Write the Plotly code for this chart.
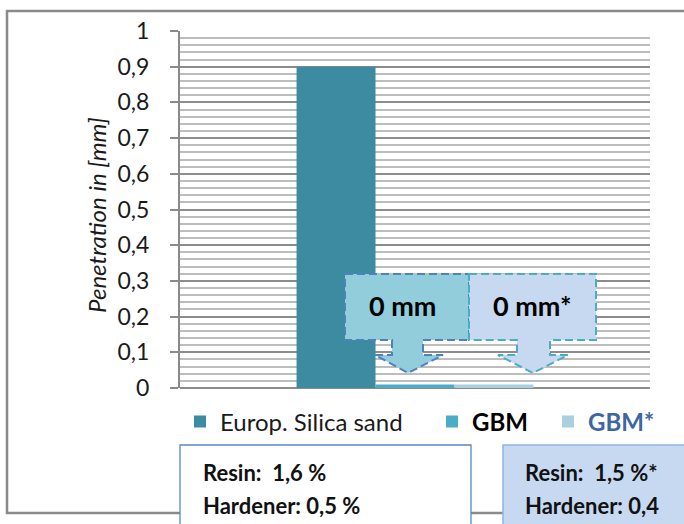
import plotly.graph_objects as go

# Penetration depth per binder system
materials = ["Europ. Silica sand", "GBM", "GBM*"]
penetration_mm = [0.9, 0.01, 0.01]
bar_colors = ["#3d8ba1", "#4bacc6", "#a9d0de"]

y_ticks = [0, 0.1, 0.2, 0.3, 0.4, 0.5, 0.6, 0.7, 0.8, 0.9, 1.0]
y_title = "Penetration in [mm]"

recipe_left = ["Resin:\u00a0 1,6 %", "Hardener: 0,5 %"]
recipe_right = ["Resin:\u00a0 1,5 %*", "Hardener: 0,4"]

W, H = 684, 524
L, R, T, B = 180, 34, 31, 136
PW, PH = W - L - R, H - T - B


def fx(px):
    return (px - L) / PW


def fy(py):
    return (H - B - py) / PH


fig = go.Figure()
legend_ids = ["legend", "legend2", "legend3"]
legend_names = ["Europ. Silica sand", "<b>GBM</b>", "<b>GBM*</b>"]
for name, val, col, lg, lname in zip(materials, penetration_mm, bar_colors,
                                     legend_ids, legend_names):
    fig.add_trace(go.Bar(x=[0], y=[val], name=lname, marker_color=col,
                         marker_line_width=0, legend=lg))

# Callout boxes with down-pointing arrows
def callout(box, shaft, head, tip_x, fill, line_col):
    x0, y0, x1, y1 = box
    s0, s1 = shaft
    h0, h1 = head
    pts = [(x0, y0), (x1, y0), (x1, y1), (s1, y1), (s1, 355), (h1, 355),
           (tip_x, 373), (h0, 355), (s0, 355), (s0, y1), (x0, y1)]
    path = "M " + " L ".join(f"{fx(a):.5f},{fy(b):.5f}" for a, b in pts) + " Z"
    fig.add_shape(type="path", path=path, xref="paper", yref="paper",
                  fillcolor=fill, line=dict(color=line_col, width=2, dash="8px,4px"),
                  layer="above")


callout((345, 274, 469, 340), (392, 423), (375, 443), 408, "#92cddc", "#4f81bd")
callout((469, 274, 596, 340), (517, 550), (498, 568), 533, "#c6d9f1", "#4bacc6")

label_font = dict(family="Lato", size=27, color="#000000")
fig.add_annotation(x=fx(402), y=fy(305), xref="paper", yref="paper",
                   text=f"<b>{round(penetration_mm[1])} mm</b>", showarrow=False,
                   font=label_font, xanchor="center", yanchor="middle")
fig.add_annotation(x=fx(532), y=fy(305), xref="paper", yref="paper",
                   text=f"<b>{round(penetration_mm[2])} mm*</b>", showarrow=False,
                   font=label_font, xanchor="center", yanchor="middle")

# Outer frame
fig.add_shape(type="rect", xref="paper", yref="paper",
              x0=fx(7), x1=fx(720), y0=fy(513), y1=fy(11),
              line=dict(color="#8a8a8a", width=2.5), fillcolor="rgba(0,0,0,0)",
              layer="below")

# Recipe boxes
fig.add_shape(type="rect", xref="paper", yref="paper",
              x0=fx(180), x1=fx(471), y0=fy(560), y1=fy(445),
              line=dict(color="#5b87c5", width=1.3), fillcolor="#ffffff", layer="above")
fig.add_shape(type="rect", xref="paper", yref="paper",
              x0=fx(503), x1=fx(720), y0=fy(560), y1=fy(445),
              line=dict(color="#8eb4e3", width=1.5), fillcolor="#c6d9f1", layer="above")

box_font = dict(family="Lato", size=22, color="#111111")
for lines, x in ((recipe_left, 201), (recipe_right, 523)):
    for text, y in zip(lines, (472, 505)):
        fig.add_annotation(x=fx(x), y=fy(y), xref="paper", yref="paper",
                           text=f"<b>{text}</b>", showarrow=False, font=box_font,
                           xanchor="left", yanchor="middle")

# Axis title
fig.add_annotation(x=fx(97), y=fy(215), xref="paper", yref="paper",
                   text=f"<i>{y_title}</i>", showarrow=False, textangle=-90,
                   font=dict(family="Lato", size=24, color="#1a1a1a"),
                   xanchor="center", yanchor="middle")

legend_common = dict(orientation="h", yanchor="middle", y=fy(422), xanchor="left",
                     bgcolor="rgba(0,0,0,0)", borderwidth=0)
fig.update_layout(
    width=W, height=H,
    margin=dict(l=L, r=R, t=T, b=B),
    paper_bgcolor="#ffffff", plot_bgcolor="#ffffff",
    barmode="group", bargap=0.496, bargroupgap=0,
    separators=", ",
    showlegend=True,
    legend=dict(x=fx(180), font=dict(family="Lato", size=24, color="#1a1a1a"), **legend_common),
    legend2=dict(x=fx(432), font=dict(family="Lato", size=24, color="#000000"), **legend_common),
    legend3=dict(x=fx(548), font=dict(family="Lato", size=24, color="#3e66a0"), **legend_common),
    xaxis=dict(range=[-0.5, 0.5], showticklabels=False, showgrid=False,
               zeroline=False, showline=False, fixedrange=True),
    yaxis=dict(range=[0, 1], tickvals=y_ticks, ticks="outside", ticklen=8,
               tickcolor="#8a8a8a", tickwidth=2,
               showline=True, linecolor="#8a8a8a", linewidth=2,
               gridcolor="#8c8c8c", gridwidth=2,
               zeroline=True, zerolinecolor="#8c8c8c", zerolinewidth=2,
               minor=dict(dtick=0.02, showgrid=True, gridcolor="#bdbdbd", gridwidth=2),
               tickfont=dict(family="Lato", size=23, color="#1a1a1a"),
               ticklabelstandoff=16),
)

fig.write_html("out.html")
